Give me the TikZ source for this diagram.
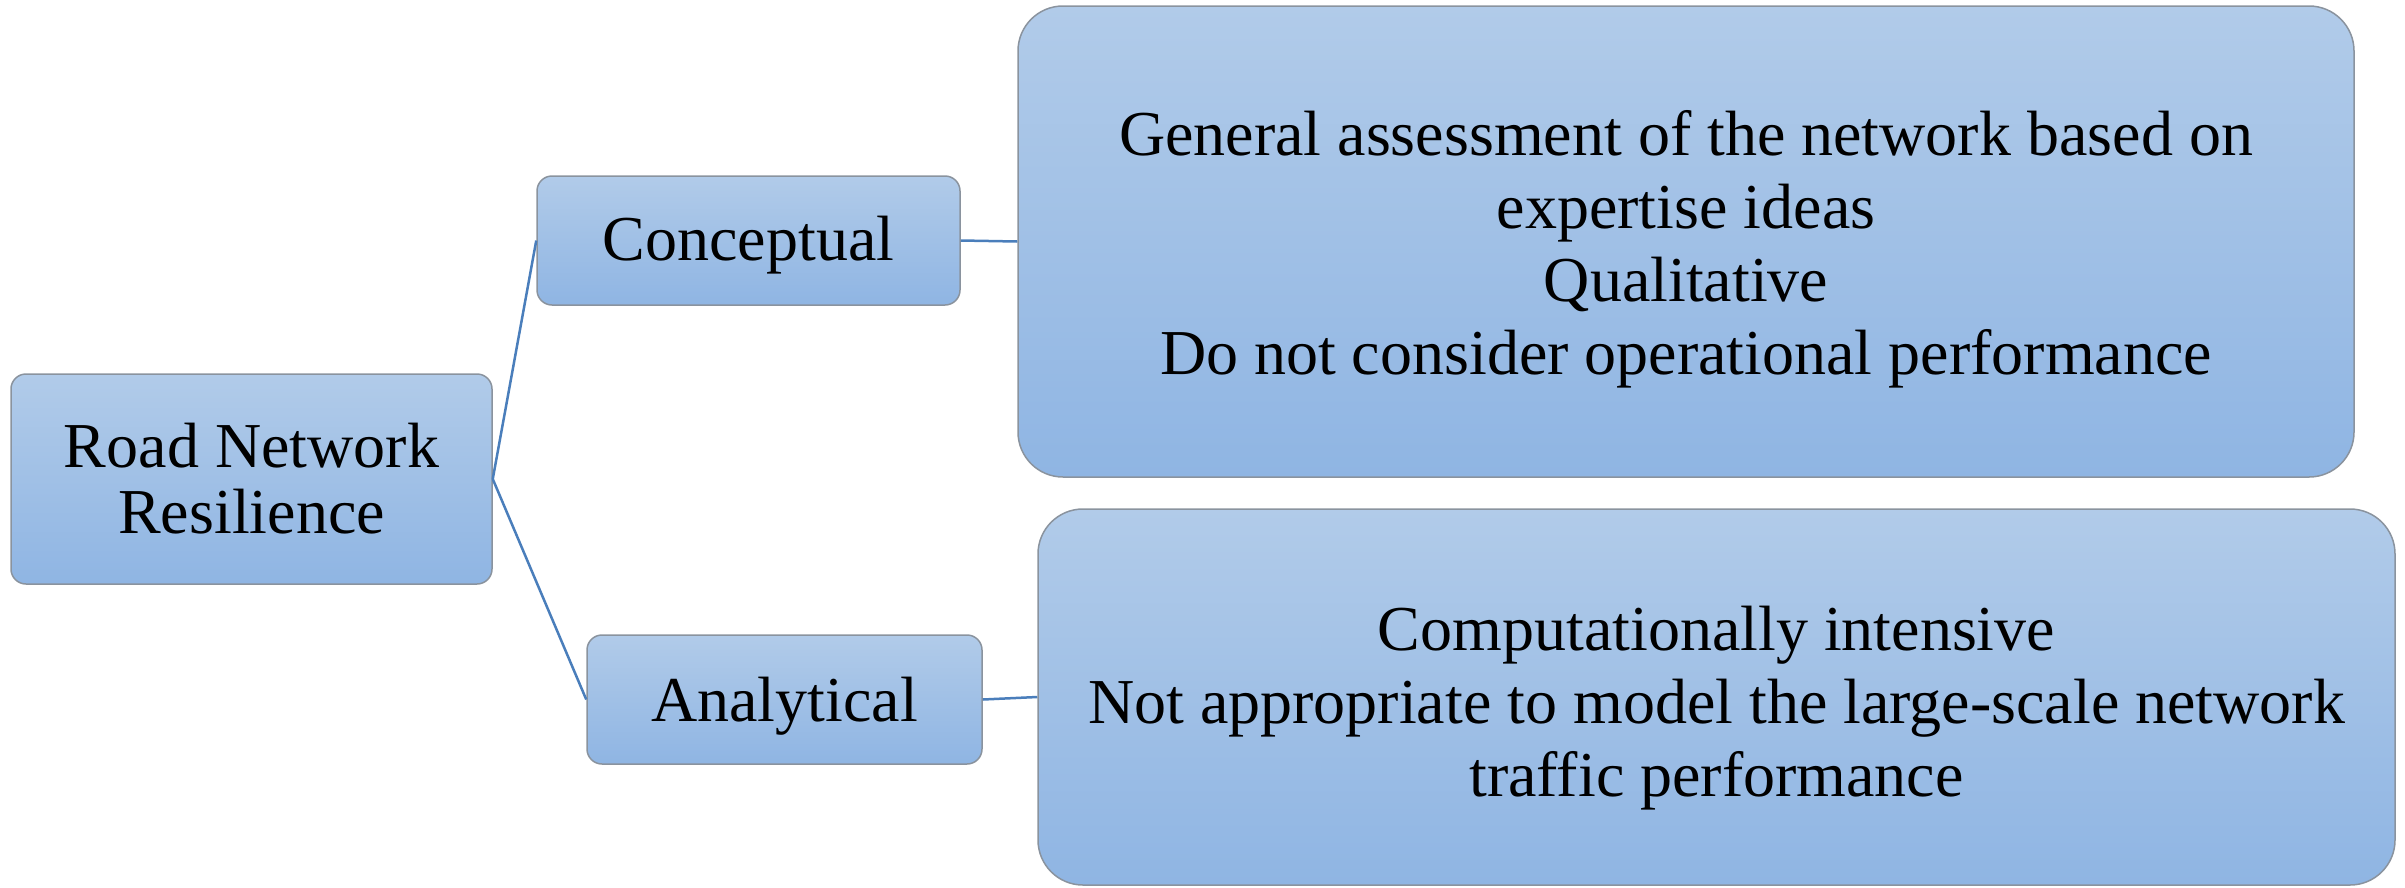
\documentclass[tikz,border=0pt]{standalone}
\usepackage{fontspec}
\setmainfont{Liberation Serif}
\usepackage{xcolor}
\usetikzlibrary{positioning}

\definecolor{boxtop}{HTML}{B1CBE9}
\definecolor{boxbot}{HTML}{8FB5E3}
\definecolor{boxline}{HTML}{8A939E}
\definecolor{linkblue}{HTML}{4A7EBB}

\tikzset{
    box/.style={draw=boxline, line width=1.5pt, top color=boxtop, bottom color=boxbot,
        inner sep=0pt},
    smallbox/.style={box, rounded corners=15pt},
    bigbox/.style={box, rounded corners=45pt},
    boxtext/.style={align=center, inner sep=0pt, font=\fontsize{64}{73}\selectfont},
    link/.style={draw=linkblue, line width=2.5pt}
}

\begin{document}
\begin{tikzpicture}[x=1pt, y=-1pt]
    \useasboundingbox (0,0) rectangle (2405,887);

    % Root
    \node[smallbox, minimum width=481pt, minimum height=210pt] (root) at (251.5,479) {};
    \node[boxtext, font=\fontsize{64}{66}\selectfont] (roottext) at (root.center) {Road Network\\Resilience};

    % Branches
    \node[smallbox, minimum width=423pt, minimum height=129pt] (concept) at (748.5,240.5) {};
    \node[boxtext] (concepttext) at ([yshift=-5pt]concept.center) {Conceptual};
    \node[smallbox, minimum width=395pt, minimum height=129pt] (analyt) at (784.5,699.5) {};
    \node[boxtext] (analyttext) at ([yshift=-7pt]analyt.center) {Analytical};

    % Descriptions
    \node[bigbox, minimum width=1336pt, minimum height=471pt] (conceptinfo) at (1686,241.5) {};
    \node[boxtext] (conceptinfotext) at ([yshift=-8pt]conceptinfo.center)
        {General assessment of the network based on\\expertise ideas\\Qualitative\\Do not consider operational performance};
    \node[bigbox, minimum width=1357pt, minimum height=376pt] (analytinfo) at (1716.5,697) {};
    \node[boxtext] (analytinfotext) at ([yshift=-11pt]analytinfo.center)
        {Computationally intensive\\Not appropriate to model the large-scale network\\traffic performance};

    % Connectors
    \draw[link] (root.east) -- (concept.west);
    \draw[link] (root.east) -- (analyt.west);
    \draw[link] (concept.east) -- (conceptinfo.west);
    \draw[link] (analyt.east) -- (analytinfo.west);
\end{tikzpicture}
\end{document}
